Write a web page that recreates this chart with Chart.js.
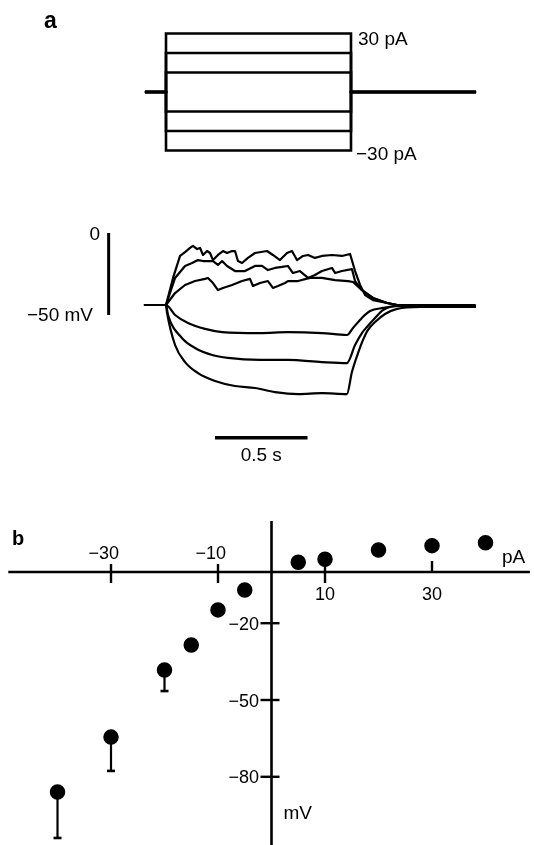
<!DOCTYPE html>
<html>
<head>
<meta charset="utf-8">
<script src="https://cdn.jsdelivr.net/npm/chart.js@4.4.1/dist/chart.umd.min.js"></script>
<style>
html,body{margin:0;padding:0;background:#fff;}
canvas{display:block;}
</style>
</head>
<body>
<canvas id="c" width="534" height="845"></canvas>
<script>
// ===== Panel a, top: injected current steps (pA) =====
const stepLevelsPA = [30, 20, 10, -10, -20, -30];
const stepTimesS = [-0.114, 0, 1.0, 1.676]; // trace start, step on, step off, trace end

// ===== Panel a, bottom: membrane potential responses (time in s, potential in mV) =====
const tDep30 = [-0.114, 0, 0.038, 0.076, 0.103, 0.130, 0.146, 0.168, 0.184, 0.200, 0.222, 0.238, 0.254, 0.281, 0.308, 0.330, 0.357, 0.373, 0.389, 0.411, 0.443, 0.481, 0.546, 0.578, 0.616, 0.654, 0.681, 0.708, 0.741, 0.768, 0.805, 0.843, 0.897, 0.951, 0.995, 1.022, 1.049, 1.076, 1.119, 1.195, 1.249, 1.670];
const vDep30 = [-43.9, -43.9, -27.4, -14.0, -11.6, -9.1, -7.9, -9.8, -9.1, -13.4, -11.0, -12.2, -16.5, -13.4, -11.0, -12.2, -11.0, -11.0, -17.1, -18.3, -15.2, -12.2, -11.0, -13.4, -16.5, -12.2, -11.0, -16.5, -14.0, -13.4, -15.2, -14.0, -13.4, -14.0, -12.8, -23.2, -31.7, -37.8, -40.9, -42.7, -43.9, -44.5];

const tDep20 = [-0.114, 0, 0.049, 0.103, 0.141, 0.173, 0.200, 0.254, 0.281, 0.303, 0.330, 0.373, 0.427, 0.481, 0.519, 0.551, 0.589, 0.627, 0.659, 0.686, 0.724, 0.768, 0.805, 0.843, 0.897, 0.914, 0.951, 1.005, 1.022, 1.059, 1.119, 1.195, 1.249, 1.670];
const vDep20 = [-43.9, -43.9, -27.4, -20.1, -18.3, -16.5, -17.1, -17.1, -19.5, -17.1, -20.1, -23.2, -23.2, -20.1, -20.1, -22.6, -21.3, -20.7, -20.1, -24.4, -23.2, -27.4, -25.6, -23.2, -21.3, -24.4, -23.2, -22.0, -29.3, -34.8, -39.6, -42.7, -43.9, -45.1];

const tDep10 = [-0.114, 0, 0.049, 0.103, 0.157, 0.211, 0.227, 0.254, 0.281, 0.308, 0.357, 0.411, 0.454, 0.470, 0.508, 0.551, 0.578, 0.605, 0.643, 0.659, 0.714, 0.778, 0.843, 0.914, 0.984, 1.011, 1.059, 1.119, 1.195, 1.249, 1.670];
const vDep10 = [-43.9, -43.9, -36.6, -31.7, -29.3, -28.0, -27.4, -30.5, -34.8, -33.5, -31.7, -29.3, -28.0, -32.3, -30.5, -29.3, -33.5, -32.3, -30.5, -29.3, -29.3, -27.4, -27.4, -28.7, -29.3, -29.9, -34.8, -39.6, -42.7, -43.9, -43.9];

const tHyp10 = [-0.114, 0, 0.049, 0.119, 0.211, 0.303, 0.508, 0.659, 0.843, 0.978, 1.011, 1.059, 1.103, 1.173, 1.249, 1.670];
const vHyp10 = [-43.9, -43.9, -50.0, -54.9, -58.5, -60.4, -61.0, -60.4, -61.0, -62.2, -57.9, -51.8, -47.6, -45.7, -44.5, -44.5];

const tHyp20 = [-0.114, 0, 0.011, 0.086, 0.157, 0.249, 0.335, 0.508, 0.659, 0.843, 0.978, 1.022, 1.059, 1.086, 1.130, 1.173, 1.249, 1.670];
const vHyp20 = [-43.9, -43.9, -50.0, -64.0, -70.1, -74.4, -76.2, -77.4, -77.4, -78.7, -79.3, -68.3, -61.0, -57.3, -51.8, -47.0, -44.5, -44.5];

const tHyp30 = [-0.114, 0, 0.005, 0.049, 0.103, 0.173, 0.265, 0.373, 0.481, 0.589, 0.714, 0.843, 0.978, 1.005, 1.038, 1.065, 1.092, 1.130, 1.184, 1.249, 1.373, 1.670];
const vHyp30 = [-43.9, -43.9, -48.2, -68.3, -78.7, -85.4, -90.2, -93.3, -94.5, -97.0, -98.2, -97.6, -98.2, -84.8, -73.2, -65.2, -59.1, -54.3, -49.4, -46.3, -45.1, -45.1];

// scale bars of panel a
const scaleBarMV = [0, -50];
const scaleBarDurationS = 0.5;

// ===== Panel b: steady-state voltage vs injected current =====
const currentPA = [-40, -30, -20, -15, -10, -5, 5, 10, 20, 30, 40];
const voltageMV = [-85.9, -64.5, -38.3, -28.5, -14.8, -7.0, 3.8, 5.0, 8.6, 10.3, 11.4];
const errLowMV = [-103.9, -77.7, -46.5, null, null, null, null, null, null, null, null];
const xTicksPA = [-30, -10, 10, 30];
const xTickLabels = ['\u221230', '\u221210', '10', '30'];
const yTicksMV = [-20, -50, -80];
const yTickLabels = ['\u221220', '\u221250', '\u221280'];

// ---------------------------------------------------------------
const zip = (xs, ys) => xs.map((x, i) => ({ x: x, y: ys[i] }));
const INK = '#000';
const datasets = [];

// current steps
stepLevelsPA.forEach(lv => {
  const [t0, tOn, tOff, t1] = stepTimesS;
  datasets.push({
    xAxisID: 'xT', yAxisID: 'yI', showLine: true,
    data: [{x: t0, y: 0}, {x: tOn, y: 0}, {x: tOn, y: lv}, {x: tOff, y: lv}, {x: tOff, y: 0}, {x: t1, y: 0}],
    borderColor: INK, borderWidth: 2.6, pointRadius: 0, tension: 0,
    borderJoinStyle: 'miter', borderCapStyle: 'butt'
  });
});

// voltage traces
[[tDep30, vDep30, false], [tDep20, vDep20, false], [tDep10, vDep10, false],
 [tHyp10, vHyp10, true], [tHyp20, vHyp20, true], [tHyp30, vHyp30, true]].forEach(([t, v, smooth]) => {
  datasets.push({
    xAxisID: 'xT', yAxisID: 'yV', showLine: true,
    data: zip(t, v),
    borderColor: INK, borderWidth: 2.2, pointRadius: 0,
    tension: 0, cubicInterpolationMode: smooth ? 'monotone' : 'default',
    borderJoinStyle: 'round', borderCapStyle: 'round'
  });
});

// scale bars (positions are layout, lengths are data)
const SB_T = -0.31;     // time where the vertical bar sits
const SB_V = -124.8;    // potential level where the horizontal bar sits
const SB_T0 = 0.265;    // start of the horizontal bar
datasets.push({
  xAxisID: 'xT', yAxisID: 'yV', showLine: true,
  data: [{x: SB_T, y: scaleBarMV[0]}, {x: SB_T, y: scaleBarMV[1]}],
  borderColor: INK, borderWidth: 3, pointRadius: 0, borderCapStyle: 'butt'
});
datasets.push({
  xAxisID: 'xT', yAxisID: 'yV', showLine: true,
  data: [{x: SB_T0, y: SB_V}, {x: SB_T0 + scaleBarDurationS, y: SB_V}],
  borderColor: INK, borderWidth: 3.5, pointRadius: 0, borderCapStyle: 'butt'
});

// error bars of panel b
currentPA.forEach((c, i) => {
  if (errLowMV[i] === null) return;
  datasets.push({
    xAxisID: 'xP', yAxisID: 'yM', showLine: true,
    data: [{x: c, y: voltageMV[i]}, {x: c, y: errLowMV[i]}],
    borderColor: INK, borderWidth: 2.2,
    pointRadius: [0, 4], pointStyle: 'line', pointBorderWidth: 2.6,
    pointBorderColor: INK, pointBackgroundColor: INK
  });
});

// dots of panel b
datasets.push({
  xAxisID: 'xP', yAxisID: 'yM', showLine: false,
  data: zip(currentPA, voltageMV),
  pointRadius: 7, pointBorderWidth: 1.5, pointStyle: 'circle',
  pointBackgroundColor: INK, pointBorderColor: INK
});

const FONT = '"Liberation Sans", Arial, Helvetica, sans-serif';

const decor = {
  id: 'decor',
  beforeDatasetsDraw(chart) {
    const ctx = chart.ctx;
    const xP = chart.scales.xP, yM = chart.scales.yM;
    const x0 = xP.getPixelForValue(0), y0 = yM.getPixelForValue(0);
    ctx.save();
    ctx.strokeStyle = INK;
    ctx.lineCap = 'butt';
    // crossing axes of panel b
    ctx.lineWidth = 2.6;
    ctx.beginPath();
    ctx.moveTo(xP.getPixelForValue(-49.2), y0);
    ctx.lineTo(xP.getPixelForValue(48.3), y0);
    ctx.stroke();
    ctx.beginPath();
    ctx.moveTo(x0, yM.getPixelForValue(19.9));
    ctx.lineTo(x0, yM.getPixelForValue(-107));
    ctx.stroke();
    // x ticks
    ctx.lineWidth = 2.4;
    const xSpan = {'-30': [-8, 11], '-10': [-8, 11], '10': [-6, 11], '30': [-11, 0]};
    xTicksPA.forEach(v => {
      const px = xP.getPixelForValue(v);
      const s = xSpan[String(v)] || [-8, 11];
      ctx.beginPath();
      ctx.moveTo(px, y0 + s[0]);
      ctx.lineTo(px, y0 + s[1]);
      ctx.stroke();
    });
    // y ticks
    yTicksMV.forEach(v => {
      const py = yM.getPixelForValue(v);
      ctx.beginPath();
      ctx.moveTo(x0 - 11, py);
      ctx.lineTo(x0 + 8, py);
      ctx.stroke();
    });
    ctx.restore();
  },
  afterDatasetsDraw(chart) {
    const ctx = chart.ctx;
    const xP = chart.scales.xP, yM = chart.scales.yM;
    const x0 = xP.getPixelForValue(0), y0 = yM.getPixelForValue(0);
    ctx.save();
    ctx.fillStyle = INK;
    const txt = (s, x, y, align, font) => {
      ctx.font = font;
      ctx.textAlign = align;
      ctx.textBaseline = 'alphabetic';
      ctx.fillText(s, x, y);
    };
    // panel labels
    txt('a', 44, 28, 'left', 'bold 23px ' + FONT);
    txt('b', 12, 545, 'left', 'bold 20px ' + FONT);
    // panel a annotations
    const f19 = '19px ' + FONT;
    txt('30 pA', 358, 44.5, 'left', f19);
    txt('\u221230 pA', 356, 159.5, 'left', f19);
    txt('0', 100, 239.5, 'right', f19);
    txt('\u221250 mV', 93, 321, 'right', f19);
    const xT = chart.scales.xT;
    txt('0.5 s', (xT.getPixelForValue(SB_T0) + xT.getPixelForValue(SB_T0 + scaleBarDurationS)) / 2, 461, 'center', f19);
    // panel b tick labels
    const f18 = '18px ' + FONT;
    xTicksPA.forEach((v, i) => {
      const lab = xTickLabels[i];
      const px = xP.getPixelForValue(v);
      if (v < 0) {
        const num = lab.replace('\u2212', '');
        ctx.font = f18;
        const wNum = ctx.measureText(num).width;
        const wMin = ctx.measureText('\u2212').width;
        txt(lab, px - wNum / 2 - wMin - 2, y0 - 13.5, 'left', f18);
      } else {
        txt(lab, px, y0 + 27.5, 'center', f18);
      }
    });
    yTicksMV.forEach((v, i) => {
      txt(yTickLabels[i], x0 - 12.5, yM.getPixelForValue(v) + 6.5, 'right', f18);
    });
    // axis units
    txt('mV', x0 + 12, 819, 'left', f19);
    txt('pA', 502, 563, 'left', f19);
    ctx.restore();
  }
};

new Chart(document.getElementById('c'), {
  type: 'scatter',
  data: { datasets: datasets },
  options: {
    responsive: false,
    maintainAspectRatio: false,
    animation: false,
    devicePixelRatio: 1,
    events: [],
    layout: { padding: 0, autoPadding: false },
    plugins: { legend: { display: false }, tooltip: { enabled: false } },
    scales: {
      x:  { type: 'linear', display: false },
      y:  { type: 'linear', display: false },
      xT: { type: 'linear', axis: 'x', display: false, bounds: 'data', min: -0.8973, max: 1.9892 },
      xP: { type: 'linear', axis: 'x', display: false, bounds: 'data', min: -50.748, max: 49.065 },
      yI: { type: 'linear', axis: 'y', display: false, bounds: 'data', min: -386.15, max: 47.18 },
      yV: { type: 'linear', axis: 'y', display: false, bounds: 'data', min: -373.17, max: 142.07 },
      yM: { type: 'linear', axis: 'y', display: false, bounds: 'data', min: -106.64, max: 223.44 }
    }
  },
  plugins: [decor]
});
</script>
</body>
</html>
